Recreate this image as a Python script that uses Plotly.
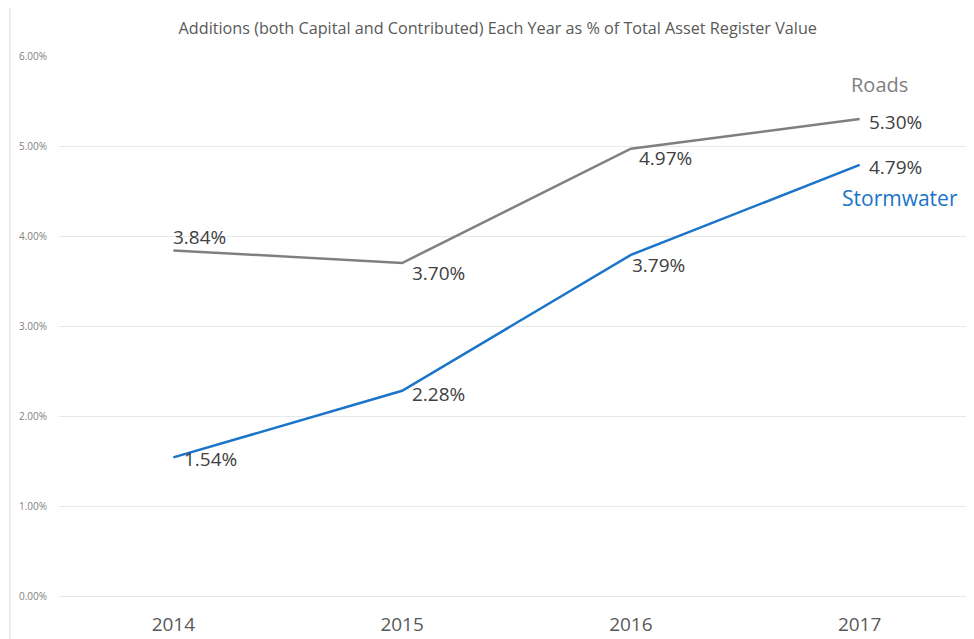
import plotly.graph_objects as go

years = ["2014", "2015", "2016", "2017"]
roads = [3.84, 3.70, 4.97, 5.30]
stormwater = [1.54, 2.28, 3.79, 4.79]
y_ticks = [0, 1, 2, 3, 4, 5, 6]
y_tick_labels = ["0.00%", "1.00%", "2.00%", "3.00%", "4.00%", "5.00%", "6.00%"]

title_text = "Additions (both Capital and Contributed) Each Year as % of Total Asset Register Value"
roads_color = "#7f7f7f"
storm_color = "#1a74c9"
label_color = "#404040"
font_family = "Open Sans, Noto Sans, sans-serif"

fig = go.Figure()
fig.add_trace(go.Scatter(x=years, y=roads, mode="lines", name="Roads",
                         line=dict(color=roads_color, width=2.5), hoverinfo="skip"))
fig.add_trace(go.Scatter(x=years, y=stormwater, mode="lines", name="Stormwater",
                         line=dict(color=storm_color, width=2.5), hoverinfo="skip"))

# data labels (offsets in pixels)
roads_offsets = [(-2, 13), (8, -10), (6, -9), (7, -3)]
storm_offsets = [(9, -2), (8, -3), (-1, -10), (7, -2)]
for ys, offs in [(roads, roads_offsets), (stormwater, storm_offsets)]:
    for i, (yv, (dx, dy)) in enumerate(zip(ys, offs)):
        fig.add_annotation(x=i, y=yv, xref="x", yref="y", text=f"{yv:.2f}%",
                           showarrow=False, xanchor="left", yanchor="middle",
                           xshift=dx, yshift=dy,
                           font=dict(size=19, color=label_color, family=font_family))

# series name labels
last = len(years) - 1
fig.add_annotation(x=last, y=roads[-1], xref="x", yref="y", text="Roads",
                   showarrow=False, xanchor="left", yanchor="middle",
                   xshift=-11, yshift=35,
                   font=dict(size=20, color=roads_color, family=font_family))
fig.add_annotation(x=last, y=stormwater[-1], xref="x", yref="y", text="Stormwater",
                   showarrow=False, xanchor="left", yanchor="middle",
                   xshift=-20, yshift=-33,
                   font=dict(size=21, color=storm_color, family=font_family))

# outer chart border
fig.add_shape(type="rect", xref="paper", yref="paper",
              x0=-0.0536, y0=-0.2, x1=1.2, y1=1.0926,
              line=dict(color="#d9d9d9", width=1), fillcolor="rgba(0,0,0,0)", layer="below")

fig.update_layout(
    width=966, height=631,
    margin=dict(l=51, r=0, t=48, b=43),
    paper_bgcolor="white", plot_bgcolor="white",
    showlegend=False,
    title=dict(text=title_text, x=0.507, xanchor="center", y=0.967, yanchor="middle",
               font=dict(size=16.2, color="#595959", family=font_family)),
    font=dict(family=font_family),
)
fig.update_xaxes(type="category", range=[-0.5, 3.5], showgrid=False, zeroline=False,
                 showline=False, ticks="", ticklabelstandoff=15,
                 tickfont=dict(size=19, color="#595959", family=font_family))
fig.update_yaxes(range=[0, 6], tickvals=y_ticks, ticktext=y_tick_labels,
                 showgrid=True, gridcolor="#e8e8e8", gridwidth=1,
                 zeroline=True, zerolinecolor="#e8e8e8", zerolinewidth=1,
                 showline=False, ticks="", ticklabelstandoff=11,
                 tickfont=dict(size=10, color="#7f7f7f", family=font_family))

fig.write_html("out.html")
